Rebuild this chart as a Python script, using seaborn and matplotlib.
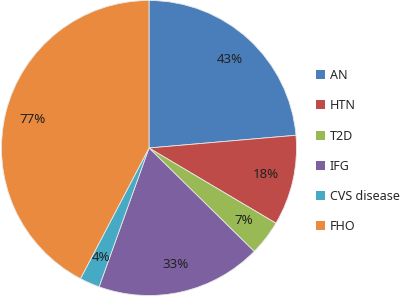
import matplotlib

matplotlib.use("Agg")
import matplotlib.pyplot as plt
import numpy as np
import seaborn as sns

categories = ["AN", "HTN", "T2D", "IFG", "CVS disease", "FHO"]
values = [43, 18, 7, 33, 4, 77]
labels = ["43%", "18%", "7%", "33%", "4%", "77%"]
colors = ["#4a7ebb", "#be4b48", "#98b954", "#7d60a0", "#46aac5", "#e98a3e"]

sns.set_theme(style="white")
plt.rcParams["font.family"] = ["Noto Sans", "DejaVu Sans"]

fig = plt.figure(figsize=(4.02, 2.96), dpi=100)
ax = fig.add_axes([0.0, 0.0, 298 / 402, 1.0])

wedges, texts = ax.pie(
    values,
    colors=colors,
    startangle=90,
    counterclock=False,
    radius=1.0,
    wedgeprops=dict(edgecolor="#e8e8e8", linewidth=0.6),
)
ax.set_xlim(-1.01, 1.01)
ax.set_ylim(-1.0, 1.0)
ax.set_aspect("equal")

# percentage labels inside each slice
for w, lab in zip(wedges, labels):
    ang = np.deg2rad((w.theta1 + w.theta2) / 2)
    r = 0.81
    ax.text(r * np.cos(ang), r * np.sin(ang), lab, ha="center", va="center",
            fontsize=9.5, color="#222222")

fig.legend(
    wedges,
    categories,
    loc="upper left",
    bbox_to_anchor=(311 / 402, 1 - 64 / 296),
    frameon=False,
    fontsize=9,
    handlelength=0.75,
    handleheight=0.75,
    handletextpad=0.35,
    labelspacing=1.38,
    borderaxespad=0,
)
for h in fig.legends[0].legend_handles:
    h.set_edgecolor("none")

fig.savefig("out.png", dpi=100)
